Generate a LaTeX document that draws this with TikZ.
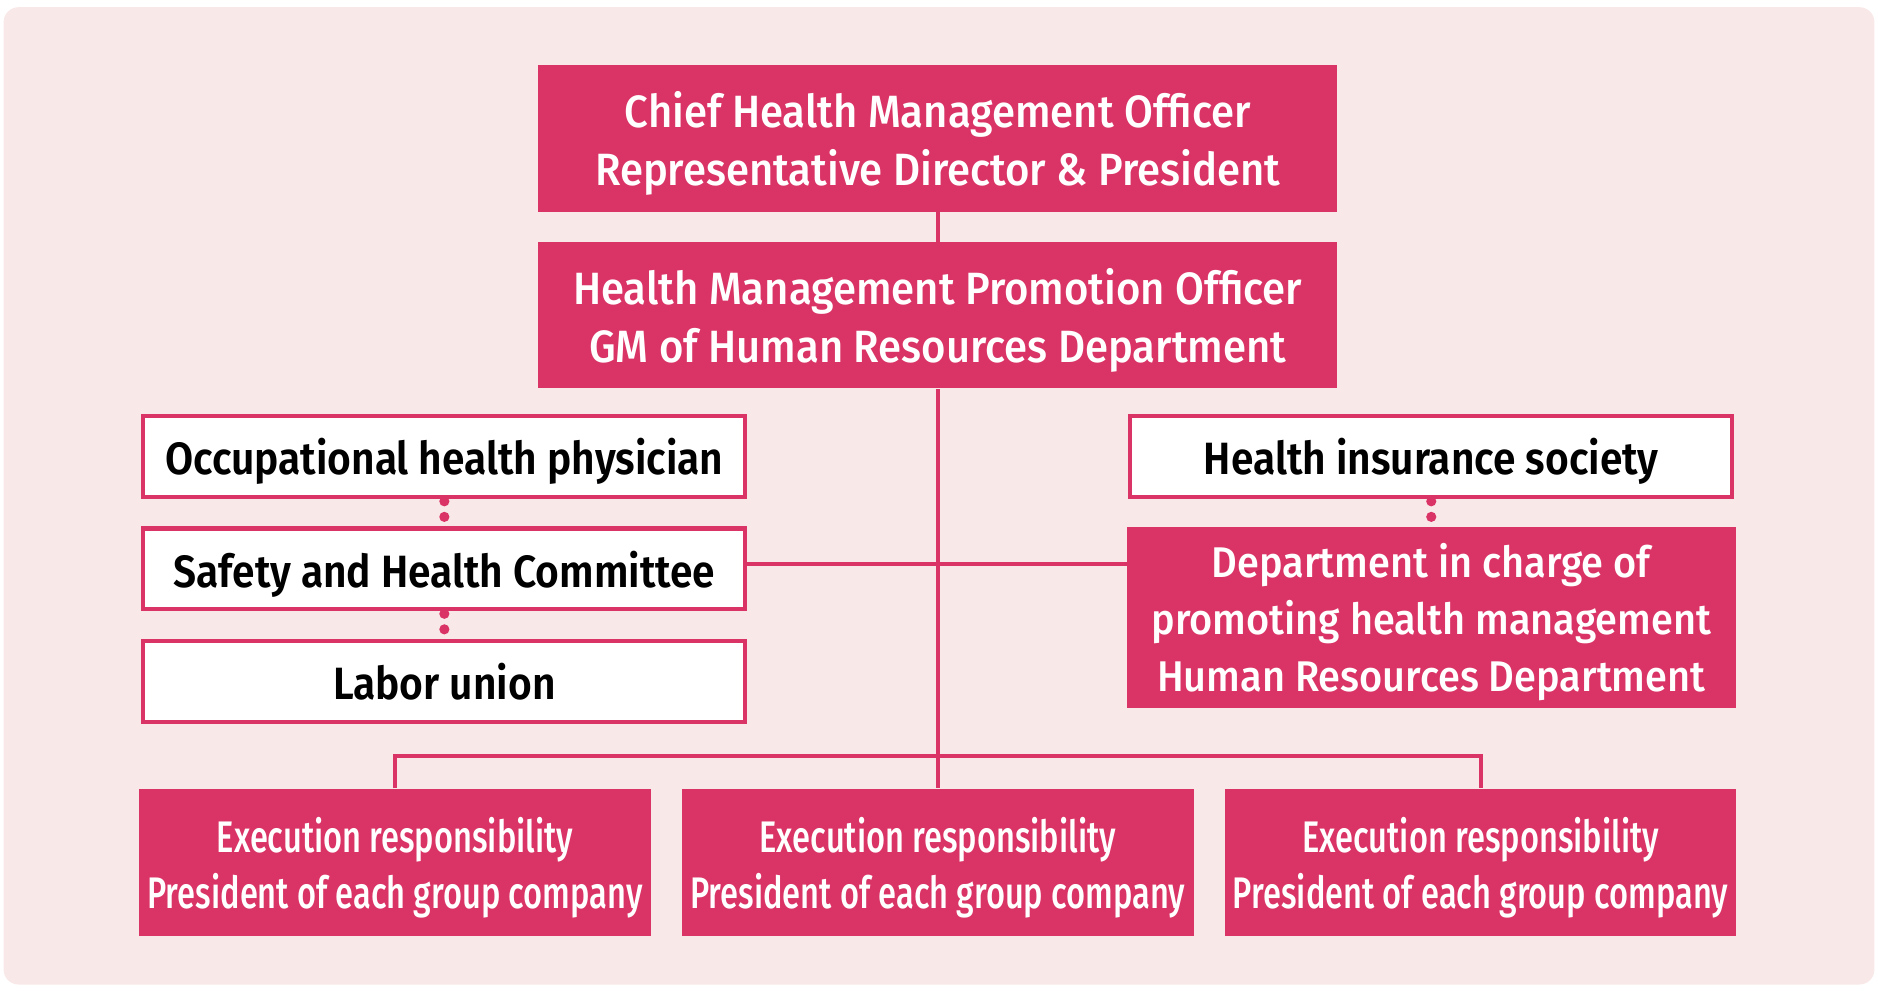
\documentclass[tikz,border=0pt]{standalone}
\usepackage{fontspec}
\setmainfont{Fira Sans}[FakeStretch=0.925, UprightFont={* Medium}, BoldFont={* SemiBold}, BoldFeatures={FakeStretch=0.9}]
\newfontfamily\condensedfont{Fira Sans Medium}[FakeStretch=0.738]
\usetikzlibrary{backgrounds, calc, positioning}
\definecolor{healthred}{RGB}{218,52,102}
\definecolor{healthpink}{RGB}{249,232,232}

\begin{document}
\begin{tikzpicture}[
	x=0.2mm, y=0.2mm,
	redbox/.style = {fill=healthred, text=white, align=center, inner sep=0pt, text depth=0pt, minimum width=133.4mm, minimum height=24.4mm, font=\fontsize{21.5}{27.2}\selectfont},
	whitebox/.style = {draw=healthred, line width=0.68mm, fill=white, inner sep=0pt, text depth=0pt, minimum width=100.5mm, minimum height=13.5mm, font=\fontsize{21.5}{26.7}\selectfont\bfseries},
	execbox/.style = {redbox, minimum width=85.4mm, minimum height=24.6mm, text depth=-1.9mm, font=\condensedfont\fontsize{21}{26.6}\selectfont},
	link/.style = {draw=healthred, line width=0.68mm},
	dots/.style = {draw=healthred, line width=1.7mm, line cap=round, dash pattern=on 0pt off 2.6mm},
	node distance = 4.6mm and 5.1mm
]

\useasboundingbox (0,0) rectangle (1568,826.6);

\node[redbox] (chief) at (783,711) {Chief Health Management Officer\\Representative Director \& President};
\node[redbox, below=5mm of chief] (promotion) {Health Management Promotion Officer\\GM of Human Resources Department};

\node[whitebox] (physician) at (371,445.5) {Occupational health physician};
\node[whitebox, below=of physician] (committee) {Safety and Health Committee};
\node[whitebox, below=of committee] (union) {Labor union};

\node[whitebox] (insurance) at (1195,445.5) {Health insurance society};
\node[redbox, below=of insurance, minimum width=101.6mm, minimum height=30.2mm, font=\fontsize{20.4}{26.9}\selectfont] (department) {Department in charge of\\promoting health management\\Human Resources Department};

\node[execbox] (exec 2) at (783,106.5) {Execution responsibility\\President of each group company};
\node[execbox, left=of exec 2] (exec 1) {Execution responsibility\\President of each group company};
\node[execbox, right=of exec 2] (exec 3) {Execution responsibility\\President of each group company};
\coordinate[above=5.4mm of exec 2.north] (fork);

\begin{scope}[on background layer]
	\fill[healthpink, rounded corners=2.5mm] (3,4.6) rectangle (1565,820.6);
	\draw[link] (chief) -- (promotion);
	\draw[link] (promotion) -- (exec 2);
	\draw[link] ([yshift=0.8mm]committee.east) -- ([yshift=0.8mm]committee.east -| department.west);
	\draw[link] (exec 1) |- (fork) -| (exec 3);
	\draw[dots] ([yshift=-0.4mm]physician.south) -- (committee.north);
	\draw[dots] ([yshift=-0.4mm]committee.south) -- (union.north);
	\draw[dots] ([yshift=-0.4mm]insurance.south) -- (department.north);
\end{scope}

\end{tikzpicture}
\end{document}
